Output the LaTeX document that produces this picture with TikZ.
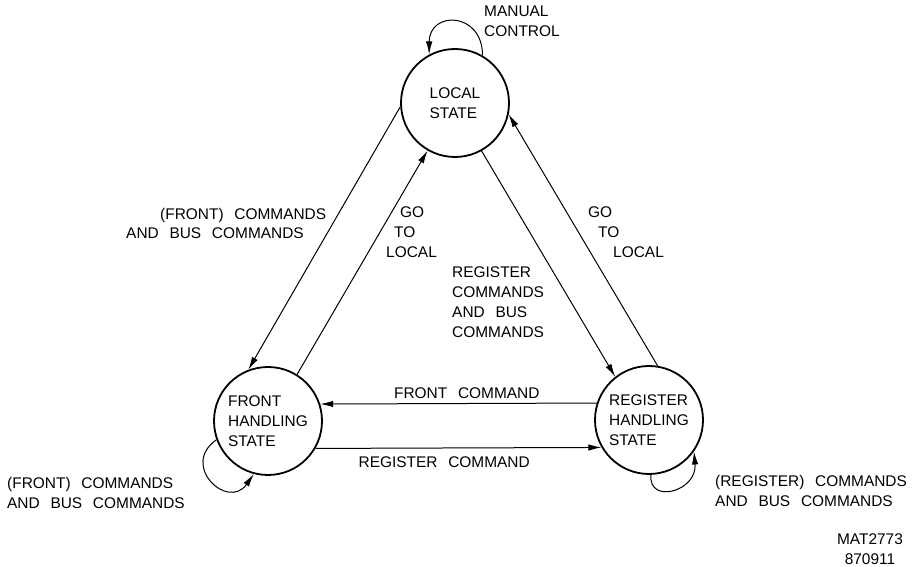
\documentclass[tikz,border=0pt]{standalone}
\usepackage{fontspec}
\usetikzlibrary{arrows.meta}
\newfontfamily\drawfont{Liberation Sans}[WordSpace=2.5]
\newcommand\lblfont{\drawfont\fontsize{15.5}{20}\selectfont}

\begin{document}
\begin{tikzpicture}[x=1bp,y=1bp,every node/.style={font=\lblfont,inner sep=0pt},
    trans/.style={-{Latex[length=13bp,width=6.5bp]},line width=1bp}]
    \useasboundingbox (0,0) rectangle (915,567);

    \begin{scope}[every node/.style={draw,circle,line width=1.8bp,minimum size=108bp,
            inner sep=0pt,align=left,font=\lblfont}]
        \node (loc) at (455,464) {LOCAL\\STATE};
        \node (frt) at (268,146) {FRONT\\HANDLING\\STATE};
        \node (reg) at (649,147) {REGISTER\\HANDLING\\STATE};
    \end{scope}

    % self loops
    \draw[trans] ([shift={(60:55)}]loc.center) .. controls +(0,44) and +(0,44)
        .. ([shift={(118:55)}]loc.center);
    \draw[trans] (frt.200) .. controls +(215:45) and +(235:45) .. (frt.255);
    \draw[trans] (reg.272) .. controls +(265:30) and +(275:40) .. (reg.325);

    % between the states
    \draw[trans] (loc.184) -- (frt.111);
    \draw[trans] (frt.58) -- (loc.240);
    \draw[trans] (loc.299) -- (reg.128);
    \draw[trans] (reg.81) -- (loc.348);
    \draw[trans] (reg.162) -- node[pos=0.47,above=4bp] (fcmd) {FRONT COMMAND} (frt.18);
    \draw[trans] (frt.-30) -- node[pos=0.45,below=8bp] (rcmd) {REGISTER COMMAND} (reg.210);

    \node[anchor=west,align=left] (manual) at (484,546) {MANUAL\\CONTROL};
    \node[anchor=west,align=left] (lfcmds) at (126,343.5)
        {\hspace*{34bp}(FRONT) COMMANDS\\AND BUS COMMANDS};
    \node[anchor=west,align=left] (lgo) at (386,335)
        {\hspace*{14bp}GO\\\hspace*{8bp}TO\\LOCAL};
    \node[anchor=west,align=left] (rcmds) at (452,264.5)
        {REGISTER\\COMMANDS\\AND BUS\\COMMANDS};
    \node[anchor=west,align=left] (rgo) at (588,335)
        {GO\\\hspace*{10bp}TO\\\hspace*{25bp}LOCAL};
    \node[anchor=west,align=left] (floop) at (7,74) {(FRONT) COMMANDS\\AND BUS COMMANDS};
    \node[anchor=west,align=left] (rloop) at (715,76) {(REGISTER) COMMANDS\\AND BUS COMMANDS};
    \node[align=center] (mat) at (870,18) {MAT2773\\870911};
\end{tikzpicture}
\end{document}
